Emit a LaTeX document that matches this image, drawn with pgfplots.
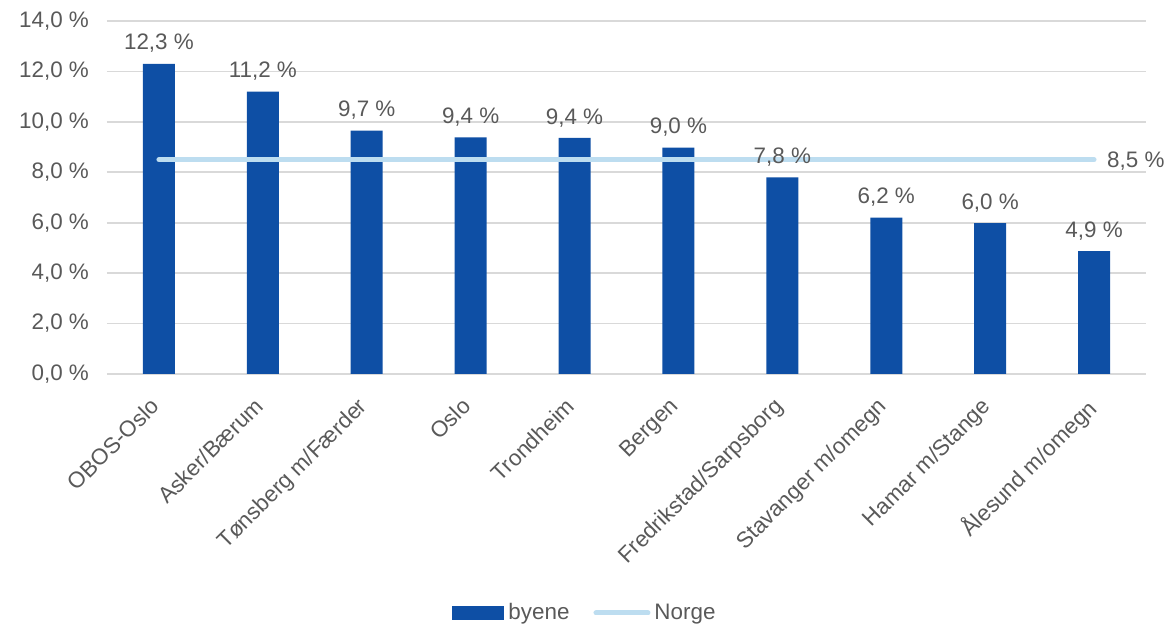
\documentclass[border=0pt]{standalone}
\usepackage{pgfplots}
\pgfplotsset{compat=1.18}
\usepackage{fontspec}
\setmainfont{Liberation Sans}
\definecolor{barblue}{HTML}{0E4FA5}
\definecolor{linelightblue}{HTML}{BDDDF0}
\definecolor{txtgray}{HTML}{595959}
\definecolor{gridgray}{HTML}{D9D9D9}
\newcommand{\chartfont}{\fontsize{11.2}{13}\selectfont}
\begin{document}
\begin{tikzpicture}
\begin{axis}[
  name=main,
  scale only axis,
  width=519.5pt, height=176.5pt,
  clip=false,
  xmin=-0.5, xmax=9.5,
  ymin=0, ymax=14,
  ytick={0,2,...,14},
  xtick={0,...,9},
  xticklabels={OBOS-Oslo,Asker/Bærum,Tønsberg m/Færder,Oslo,Trondheim,Bergen,Fredrikstad/Sarpsborg,Stavanger m/omegn,Hamar m/Stange,Ålesund m/omegn},
  x tick label style={anchor=north east, xshift=-5pt, yshift=-9.5pt, rotate=45, inner sep=1pt},
  major tick length=0pt,
  axis line style={draw=none},
  ymajorgrids,
  grid style={gridgray, line width=0.9pt},
  font=\chartfont,
  tick label style={txtgray},
  /pgf/number format/assume math mode=true,
  yticklabel={\pgfmathprintnumber[fixed,fixed zerofill,precision=1,use comma]{\tick}~\%},
  yticklabel style={xshift=-5.5pt},
  legend columns=2,
  legend style={at={(0.461,-0.677)}, anchor=center, draw=none, fill=none,
    font=\chartfont, text=txtgray, inner sep=0pt,
    /tikz/every even column/.append style={column sep=10pt},
    nodes={inner sep=2pt}},
]
\addplot[ybar, bar width=16pt, fill=barblue, draw=none,
  nodes near coords={\pgfmathprintnumber[fixed,fixed zerofill,precision=1,use comma,assume math mode=true]{\pgfplotspointmeta}~\%},
  every node near coord/.append style={txtgray, font=\chartfont, yshift=2pt},
  legend image code/.code={\fill[barblue] (0pt,-3.3pt) rectangle (26pt,3.3pt);}]
  coordinates {(0,12.3) (1,11.2) (2,9.65) (3,9.38) (4,9.36) (5,8.98) (6,7.8) (7,6.2) (8,5.98) (9,4.87)};
\addlegendentry{byene}
\addplot[linelightblue, line width=2.5pt, line cap=round, mark=none,
  legend image code/.code={\draw[linelightblue, line width=2.5pt, line cap=round] (1pt,0pt) -- (27pt,0pt);}]
  coordinates {(0,8.5) (9,8.5)}
  node[pos=1, anchor=west, text=txtgray, xshift=2pt, yshift=-0.5pt, font=\chartfont] {8,5~\%};
\addlegendentry{Norge}
\end{axis}
\pgfresetboundingbox
\useasboundingbox ([xshift=-53.5pt,yshift=-126pt]main.south west) rectangle ([xshift=12pt,yshift=10.5pt]main.north east);
\end{tikzpicture}
\end{document}
